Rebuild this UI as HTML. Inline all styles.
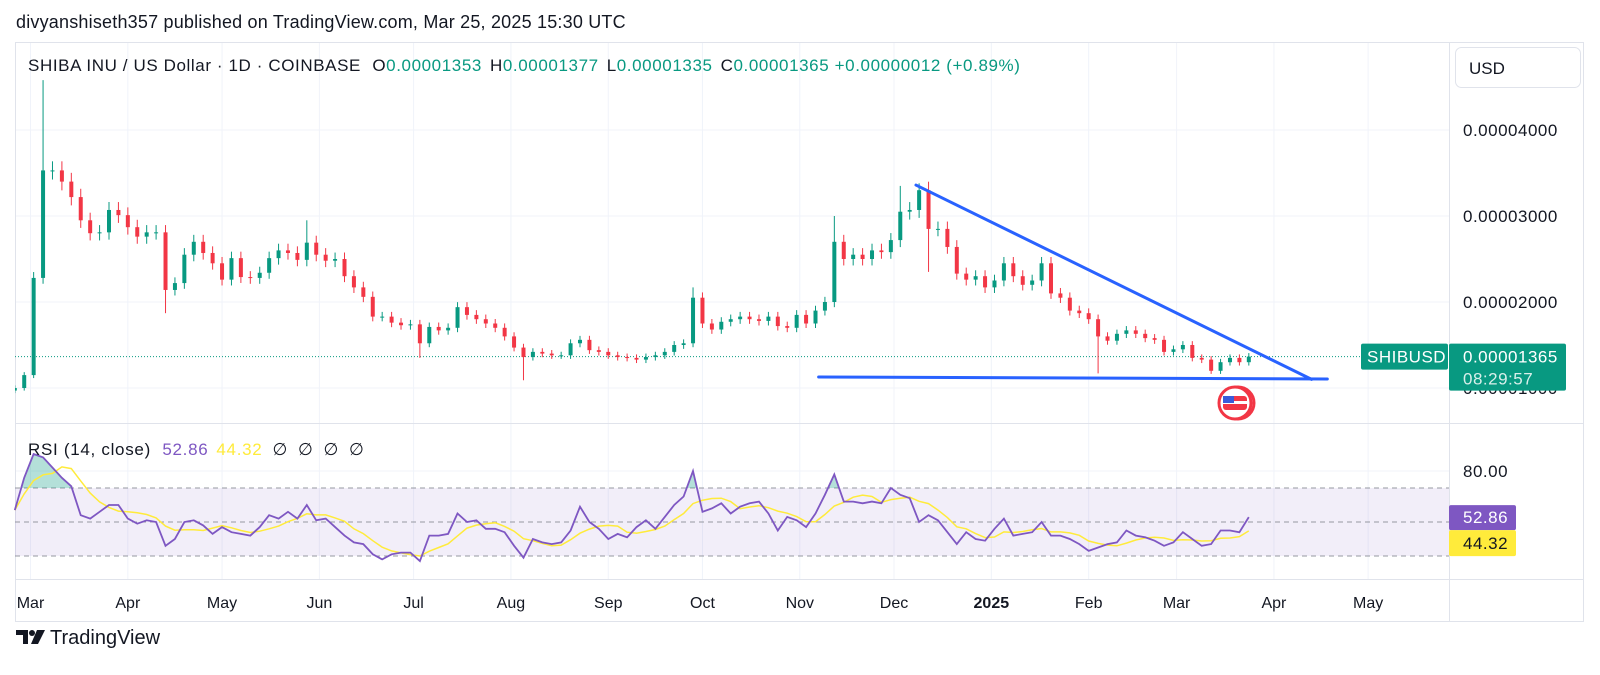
<!DOCTYPE html>
<html><head><meta charset="utf-8"><style>
html,body{margin:0;padding:0;background:#fff;}
svg{display:block;font-family:"Liberation Sans",Arial,sans-serif;}
</style></head><body>
<svg id="chart" width="1600" height="675" viewBox="0 0 1600 675">
<defs>
<clipPath id="plotClip"><rect x="15" y="42" width="1434" height="381"/></clipPath>
<clipPath id="rsiAbove"><rect x="15" y="424" width="1434" height="64"/></clipPath>
</defs>
<rect x="0" y="0" width="1600" height="675" fill="#fff"/>
<text x="16" y="28" font-size="18" letter-spacing="0.2" fill="#131722">divyanshiseth357 published on TradingView.com, Mar 25, 2025 15:30 UTC</text>
<g id="grid"></g>
<rect x="15.5" y="42.5" width="1568" height="579" fill="none" stroke="#e0e3eb"/>
<line x1="15" y1="423.5" x2="1584" y2="423.5" stroke="#e0e3eb"/>
<line x1="15" y1="579.5" x2="1584" y2="579.5" stroke="#e0e3eb"/>
<line x1="1449.5" y1="42" x2="1449.5" y2="622" stroke="#e0e3eb"/>
<g id="rsiBand"></g>
<g id="candles" clip-path="url(#plotClip)"></g>
<g id="drawings"></g>
<g id="rsi"></g>
<g id="axes"></g>
<text x="28" y="71" font-size="17" letter-spacing="0.6" fill="#131722">SHIBA INU / US Dollar · 1D · COINBASE <tspan dx="6">O</tspan><tspan fill="#089981">0.00001353</tspan><tspan dx="8">H</tspan><tspan fill="#089981">0.00001377</tspan><tspan dx="8">L</tspan><tspan fill="#089981">0.00001335</tspan><tspan dx="8">C</tspan><tspan fill="#089981">0.00001365 +0.00000012 (+0.89%)</tspan></text>
<rect x="1455.5" y="47.5" width="125" height="40" rx="6" fill="#fff" stroke="#e0e3eb"/>
<text x="1469" y="74" font-size="17" fill="#131722">USD</text>
<text x="28" y="455" font-size="17" letter-spacing="0.7" fill="#131722">RSI (14, close) <tspan dx="6" fill="#7e57c2">52.86</tspan><tspan dx="8" fill="#ffeb3b">44.32</tspan><tspan dx="10">∅</tspan><tspan dx="10">∅</tspan><tspan dx="10">∅</tspan><tspan dx="10">∅</tspan></text>
<g>
<circle cx="1238" cy="403" r="16" fill="#fff" stroke="#f23645" stroke-width="3"/>
<circle cx="1235" cy="403" r="16" fill="#fff" stroke="#f23645" stroke-width="3"/>
<rect x="1223" y="396" width="24" height="14" rx="3" fill="#f23645"/>
<rect x="1223" y="401" width="24" height="3" fill="#fff"/>
<rect x="1223" y="396" width="11" height="7" fill="#3a5bd9"/>
</g>
<g>
<path d="M16 630h12v14h-5v-9h-7z" fill="#131722"/>
<circle cx="32" cy="633" r="3" fill="#131722"/>
<path d="M37 630h8l-7 14h-7z" fill="#131722"/>
<text x="50" y="644" font-size="20" fill="#131722">TradingView</text>
</g>
</svg>
<script>
// ---- data (prices in units of 1e-5 USD), 3-day bars starting 2024-02-25 ----
const startDay = -5;           // days relative to 2024-03-01
const barDays = 3;
const closes = [1.0,1.15,2.28,3.53,3.53,3.4,3.22,2.95,2.8,2.81,3.07,3.01,2.87,2.76,2.81,2.81,2.14,2.22,2.55,2.7,
2.57,2.45,2.26,2.51,2.29,2.28,2.34,2.51,2.6,2.57,2.49,2.69,2.55,2.48,2.5,2.3,2.17,2.06,1.83,1.83,
1.76,1.73,1.74,1.52,1.71,1.67,1.7,1.94,1.85,1.8,1.75,1.7,1.6,1.47,1.36,1.42,1.4,1.38,1.38,1.52,
1.56,1.44,1.42,1.38,1.36,1.35,1.33,1.36,1.38,1.42,1.5,1.52,2.05,1.75,1.68,1.77,1.8,1.83,1.8,1.78,
1.83,1.72,1.7,1.85,1.75,1.9,2.0,2.7,2.5,2.55,2.5,2.6,2.58,2.72,3.05,3.07,3.3,2.85,2.85,2.64,
2.33,2.26,2.3,2.17,2.25,2.45,2.3,2.2,2.25,2.45,2.1,2.05,1.9,1.87,1.8,1.6,1.55,1.63,1.67,1.63,
1.58,1.56,1.42,1.45,1.5,1.35,1.33,1.2,1.3,1.35,1.3,1.365];
const wickHigh = {3:4.58, 31:2.95, 72:2.17, 87:3.0, 94:3.35, 96:3.38};
const wickLow = {16:1.87, 43:1.35, 54:1.09, 97:2.35, 115:1.17};
const rsiValues = [57,76,90,88,82,76,71,54,52,56,60,60,52,49,51,50,36,40,50,51,
48,43,47,44,43,42,47,54,52,56,52,60,51,52,47,42,38,37,31,28,
31,32,32,27,42,42,43,55,50,51,46,46,44,36,29,40,38,37,38,45,
59,50,46,40,43,41,47,51,46,53,60,65,80,56,58,61,55,59,61,62,
55,45,53,51,47,55,66,78,62,62,61,62,61,70,66,64,50,54,51,44,
37,44,40,39,46,52,42,43,44,50,42,42,40,37,33,35,37,38,45,42,
41,39,36,38,44,40,36,37,45,45,44,52.86];
const priceTicks = [4,3,2,1];
const priceTickLabels = ["0.00004000","0.00003000","0.00002000","0.00001000"];
const monthDays = [0,31,61,92,122,153,184,214,245,275,306,337,365,396,426];
const monthLabels = ["Mar","Apr","May","Jun","Jul","Aug","Sep","Oct","Nov","Dec","2025","Feb","Mar","Apr","May"];
const rsiLevels = [70,50,30];
const trendTop = [[282,3.36],[408,1.10]];
const trendBase = [[251,1.128],[413,1.105]];
const lastPrice = 1.365;

// ---- scales ----
const xDay = d => 30.5 + d*3.14;
const yP = p => 388 - (p-1)*86;
const yR = r => 522 - (r-50)*1.7;
const NS = "http://www.w3.org/2000/svg";
function mk(tag, attrs, parent){const e=document.createElementNS(NS,tag);for(const k in attrs)e.setAttribute(k,attrs[k]);parent.appendChild(e);return e;}

const grid = document.getElementById('grid');
monthDays.forEach((d,i)=>{
  const l = mk('line',{x1:xDay(d),x2:xDay(d),y1:42,y2:579,stroke:'#f0f3fa'},grid);
  
  
});
priceTicks.forEach(p=>{
  const l = mk('line',{x1:15,x2:1449,y1:yP(p),y2:yP(p),stroke:'#f0f3fa'},grid);
  
  
});
const gl80 = mk('line',{x1:15,x2:1449,y1:yR(80),y2:yR(80),stroke:'#f0f3fa'},grid);



const axes = document.getElementById('axes');
monthDays.forEach((d,i)=>{
  const t = mk('text',{x:xDay(d),y:608,'font-size':16,'text-anchor':'middle',fill:'#131722','font-weight':monthLabels[i]==='2025'?'bold':'normal'},axes);
  t.textContent = monthLabels[i];
  
  
});
priceTicks.forEach((p,i)=>{
  const t = mk('text',{x:1463,y:yP(p)+6,'font-size':17,'letter-spacing':0.5,fill:'#131722'},axes);
  t.textContent = priceTickLabels[i];
  
  
});
const t80 = mk('text',{x:1463,y:yR(80)+6,'font-size':17,'letter-spacing':0.5,fill:'#131722'},axes);
t80.textContent='80.00';



// candles
const cg = document.getElementById('candles');
const lpl = mk('line',{x1:15,x2:1449,y1:yP(lastPrice),y2:yP(lastPrice),stroke:'#089981','stroke-dasharray':'1 2'},cg);


closes.forEach((c,i)=>{
  const o = i===0 ? c*0.97 : closes[i-1];
  const hi = wickHigh[i]!==undefined ? wickHigh[i] : Math.max(o,c)*1.03;
  const lo = wickLow[i]!==undefined ? wickLow[i] : Math.min(o,c)*0.97;
  const x = xDay(startDay + i*barDays);
  const col = c>=o ? '#089981' : '#f23645';
  const g = mk('g',{},cg);
  
  
  mk('line',{x1:x,x2:x,y1:yP(hi),y2:yP(lo),stroke:col,'stroke-width':1},g);
  const top = yP(Math.max(o,c)), bot = yP(Math.min(o,c));
  mk('rect',{x:x-2,y:top,width:4,height:Math.max(1,bot-top),fill:col},g);
});

// drawings
const dg = document.getElementById('drawings');
[trendTop,trendBase].forEach((seg,k)=>{
  const l = mk('line',{x1:xDay(seg[0][0]),y1:yP(seg[0][1]),x2:xDay(seg[1][0]),y2:yP(seg[1][1]),stroke:'#2962ff','stroke-width':3,'stroke-linecap':'round'},dg);
  
  
});

// RSI
const band = document.getElementById('rsiBand');
const br = mk('rect',{x:15,y:yR(70),width:1434,height:yR(30)-yR(70),fill:'#7e57c2','fill-opacity':0.1},band);


rsiLevels.forEach(v=>{
  const l = mk('line',{x1:15,x2:1449,y1:yR(v),y2:yR(v),stroke:'#9598a1','stroke-dasharray':'5 4'},band);
  
  
});
const rg = document.getElementById('rsi');
const pts = rsiValues.map((r,i)=>[xDay(startDay+i*barDays), yR(r)]);
const dStr = pts.map((p,i)=>(i?'L':'M')+p[0].toFixed(1)+' '+p[1].toFixed(1)).join(' ');
const fillPath = mk('path',{d:dStr+` L${pts[pts.length-1][0]} ${yR(70)} L${pts[0][0]} ${yR(70)} Z`,fill:'#089981','fill-opacity':0.3,'clip-path':'url(#rsiAbove)'},rg);


const ma = rsiValues.map((r,i)=>{const s=rsiValues.slice(Math.max(0,i-4),i+1);return s.reduce((a,b)=>a+b,0)/s.length;});
const maStr = ma.map((r,i)=>(i?'L':'M')+xDay(startDay+i*barDays).toFixed(1)+' '+yR(r).toFixed(1)).join(' ');
const maPath = mk('path',{d:maStr,fill:'none',stroke:'#ffeb3b','stroke-width':1.5},rg);


const rsiPath = mk('path',{d:dStr,fill:'none',stroke:'#7e57c2','stroke-width':1.8},rg);



// labels on axis
function box(x,y,w,h,fill,parent,name){const r=mk('rect',{x:x,y:y,width:w,height:h,rx:2,fill:fill},parent);return r;}
function txt(x,y,s,fill,size,parent,name){const t=mk('text',{x:x,y:y,'font-size':size,fill:fill,'letter-spacing':0.5},parent);t.textContent=s;return t;}
const yl = yP(lastPrice);
box(1361,yl-13,87,26,'#089981',axes,'symbol-tag');
txt(1367,yl+6,'SHIBUSD','#fff',17,axes,'symbol-tag-text');
box(1449,yl-13,117,47,'#089981',axes,'last-price-tag');
txt(1463,yl+6,'0.00001365','#fff',17,axes,'last-price-text');
txt(1463,yl+28,'08:29:57','#d8efea',17,axes,'countdown-text');
const lastR = rsiValues[rsiValues.length-1], lastMA = 44.32;
box(1449,yR(lastR)-12,67,25,'#7e57c2',axes,'rsi-value-tag');
txt(1463,yR(lastR)+6,lastR.toFixed(2),'#fff',17,axes,'rsi-value-text');
box(1449,yR(lastR)+13,67,26,'#ffeb3b',axes,'rsi-ma-tag');
txt(1463,yR(lastR)+32,lastMA.toFixed(2),'#131722',17,axes,'rsi-ma-text');
</script>
</body></html>
